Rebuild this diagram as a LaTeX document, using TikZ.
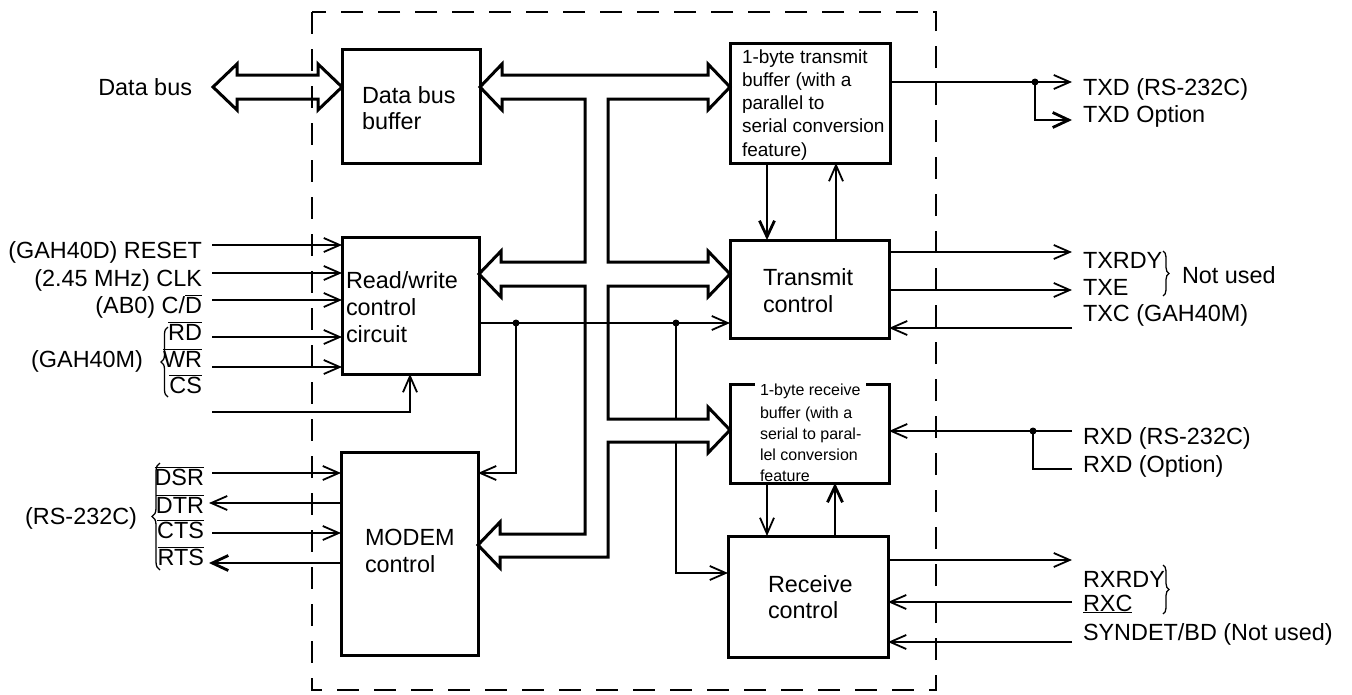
\documentclass[tikz,border=0pt]{standalone}
\usepackage{fontspec}
\setmainfont{Liberation Sans}
\usetikzlibrary{arrows.meta,decorations.pathreplacing}
\newcommand\lns[1]{\begin{tabular}[t]{@{}l@{}}#1\end{tabular}}
\newcommand\ovl[1]{$\overline{\mbox{#1}}$}
\begin{document}
\begin{tikzpicture}[x=1pt,y=-1pt,
  every node/.style={font=\fontsize{23.4}{26}\selectfont, inner sep=0pt, outer sep=0pt},
  box/.style={draw, line width=3pt, inner sep=0pt, outer sep=0pt, anchor=north west},
  lab/.style={anchor=base west},
  labl/.style={anchor=base east},
  sig/.style={line width=1.8pt},
  thk/.style={line width=2.8pt},
  tip/.style={-{Straight Barb[length=16pt,width=14pt,line width=1.8pt]}},
  tipT/.style={-{Straight Barb[length=16pt,width=15pt,line width=2.8pt]}},
  bus/.style={line width=3pt, line join=miter},
  brc/.style={line width=1.3pt, decorate, decoration={brace, amplitude=7pt}},
  small/.style={font=\fontsize{19}{23.3}\selectfont},
  smaller/.style={font=\fontsize{16}{21}\selectfont}
]
\useasboundingbox (0,0) rectangle (1352,694);

% boundary
\draw[line width=2.5pt, dash pattern=on 22pt off 15pt] (312,12) rectangle (936,690);

% boxes
\node[box, minimum width=138pt, minimum height=114pt] (dbb) at (342,49) {};
\node[box, minimum width=137pt, minimum height=137pt] (rw) at (342,237) {};
\node[box, minimum width=137pt, minimum height=203pt] (modem) at (341,452) {};
\node[box, minimum width=160pt, minimum height=120pt] (txbuf) at (730,43) {};
\node[box, minimum width=159pt, minimum height=98pt] (txctl) at (730,240) {};
\node[box, minimum width=159pt, minimum height=99pt] (rxbuf) at (730,384) {};
\node[box, minimum width=160pt, minimum height=121pt] (rxctl) at (728,536) {};

% box texts
\node[lab] (dbbt) at (362,103) {\lns{Data bus\\buffer}};
\node[lab, font=\fontsize{23.4}{27}\selectfont] (rwt) at (346,288) {\lns{Read/write\\control\\circuit}};
\node[lab, font=\fontsize{23.4}{27}\selectfont] (modemt) at (365,545) {\lns{MODEM\\control}};
\node[lab, font=\fontsize{23.4}{27}\selectfont] (txctlt) at (763,285) {\lns{Transmit\\control}};
\node[lab] (rxctlt) at (768,592) {\lns{Receive\\control}};
\node[lab, small] (txbuft) at (742,63) {\lns{1-byte transmit\\buffer (with a\\parallel to\\serial conversion\\feature)}};
\node[lab, smaller, fill=white, inner xsep=5pt, inner ysep=2pt] (rxbufa) at (755,395) {1-byte receive};
\node[lab, smaller] (rxbufb) at (760,418) {\lns{buffer (with a\\serial to paral-\\lel conversion\\feature}};

% R/W output lines (one under the bus)
\coordinate (j1) at (516,323);
\coordinate (j2) at (676,323);
\coordinate (m1) at (516,473);
\coordinate (r1) at (676,573);
\draw[sig, tip] (j2) -- (r1) -- (r1 -| rxctl.west);

% internal bus
\draw[bus, fill=white] (480,87) -- (502,64) -- (502,75) -- (708,75) -- (708,64) -- (730,87)
  -- (708,110) -- (708,99) -- (608,99) -- (608,262) -- (708,262) -- (708,251) -- (730,274)
  -- (708,297) -- (708,286) -- (608,286) -- (608,419) -- (708,419) -- (708,407) -- (730,430)
  -- (708,453) -- (708,442) -- (608,442) -- (608,557) -- (500,557) -- (500,568) -- (478,545)
  -- (500,522) -- (500,534) -- (585,534) -- (585,286) -- (501,286) -- (501,297) -- (479,274)
  -- (501,251) -- (501,262) -- (585,262) -- (585,99) -- (502,99) -- (502,110) -- cycle;

% external data bus arrow
\draw[bus] (213,87) -- (237,64) -- (237,75) -- (318,75) -- (318,64) -- (342,87)
  -- (318,110) -- (318,99) -- (237,99) -- (237,110) -- cycle;
\node[labl] (dbl) at (192,95) {Data bus};

\draw[sig, tip] (j1 -| rw.east) -- (j1 -| txctl.west);
\draw[sig, tip] (j1) -- (m1) -- (m1 -| modem.east);
\fill (j1) circle (3.5pt);
\fill (j2) circle (3.5pt);

% R/W inputs
\coordinate (iReset) at (212,245);
\coordinate (iClk) at (212,273);
\coordinate (iCD) at (212,300);
\coordinate (iRD) at (212,337);
\coordinate (iWR) at (212,367);
\coordinate (iCS) at (212,412);
\coordinate (cCS) at (410,412);
\foreach \c in {iReset,iClk,iCD,iRD,iWR}
  \draw[sig, tip] (\c) -- (\c -| rw.west);
\draw[sig, tip] (iCS) -- (cCS) -- (cCS |- rw.south);

\node[labl] (tReset) at (202,258) {(GAH40D) RESET};
\node[labl] (tClk) at (202,286) {(2.45 MHz) CLK};
\node[labl] (tCD) at (202,313) {(AB0) C/\ovl{D}};
\node[labl] (tRD) at (202,340) {\ovl{RD}};
\node[labl] (tWR) at (202,367) {\ovl{WR}};
\node[labl] (tCS) at (202,393) {\ovl{CS}};
\node[labl] (tGAH) at (143,367) {(GAH40M)};
\draw[brc] (168,397) -- (168,327);

% MODEM signals
\coordinate (iDSR) at (212,473);
\coordinate (oDTR) at (209,503);
\coordinate (iCTS) at (212,533);
\coordinate (oRTS) at (209,563);
\draw[sig, tip] (iDSR) -- (iDSR -| modem.west);
\draw[sig, tip] (oDTR -| modem.west) -- (oDTR);
\draw[sig, tip] (iCTS) -- (iCTS -| modem.west);
\draw[thk, tipT] (oRTS -| modem.west) -- (oRTS);
\node[labl] (tDSR) at (204,485) {\ovl{DSR}};
\node[labl] (tDTR) at (204,513) {\ovl{DTR}};
\node[labl] (tCTS) at (204,538) {\ovl{CTS}};
\node[labl] (tRTS) at (204,565) {\ovl{RTS}};
\node[labl] (tRS) at (137,524) {(RS-232C)};
\draw[brc, decoration={brace, amplitude=8pt}] (160,570) -- (160,463);

% buffer <-> control
\coordinate (xa) at (767,200);
\coordinate (xb) at (836,200);
\coordinate (xc) at (767,500);
\coordinate (xd) at (835,500);
\draw[thk, tipT] (xa |- txbuf.south) -- (xa |- txctl.north);
\draw[sig, tip] (xb |- txctl.north) -- (xb |- txbuf.south);
\draw[sig, tip] (xc |- rxbuf.south) -- (xc |- rxctl.north);
\draw[thk, tipT] (xd |- rxctl.north) -- (xd |- rxbuf.south);

% right side signals
\coordinate (oTXD) at (1072,82);
\coordinate (jTXD) at (1035,82);
\coordinate (oTXO) at (1072,120);
\draw[sig, tip] (oTXD -| txbuf.east) -- (oTXD);
\draw[thk, tipT] (jTXD) -- (jTXD |- oTXO) -- (oTXO);
\fill (jTXD) circle (3.5pt);

\coordinate (oTXRDY) at (1072,252);
\coordinate (oTXE) at (1072,290);
\coordinate (iTXC) at (1072,328);
\draw[sig, tip] (oTXRDY -| txctl.east) -- (oTXRDY);
\draw[sig, tip] (oTXE -| txctl.east) -- (oTXE);
\draw[sig, tip] (iTXC) -- (iTXC -| txctl.east);

\coordinate (iRXD) at (1072,431);
\coordinate (jRXD) at (1033,431);
\coordinate (oRXO) at (1072,469);
\draw[sig, tip] (iRXD) -- (iRXD -| rxbuf.east);
\draw[thk] (jRXD) -- (jRXD |- oRXO) -- (oRXO);
\fill (jRXD) circle (3.5pt);

\coordinate (oRXRDY) at (1072,560);
\coordinate (iRXC) at (1072,602);
\coordinate (iSYN) at (1072,642);
\draw[sig, tip] (oRXRDY -| rxctl.east) -- (oRXRDY);
\draw[sig, tip] (iRXC) -- (iRXC -| rxctl.east);
\draw[sig, tip] (iSYN) -- (iSYN -| rxctl.east);

\node[lab] (tTXD) at (1083,95) {TXD (RS-232C)};
\node[lab] (tTXO) at (1083,122) {TXD Option};
\node[lab] (tTXRDY) at (1083,268) {TXRDY};
\node[lab] (tTXE) at (1083,295) {TXE};
\node[lab] (tTXC) at (1083,321) {TXC (GAH40M)};
\node[lab] (tNU) at (1182,283) {Not used};
\draw[brc, decoration={brace, amplitude=6pt}] (1163,251) -- (1163,296);
\node[lab] (tRXD) at (1083,444) {RXD (RS-232C)};
\node[lab] (tRXO) at (1083,472) {RXD (Option)};
\node[lab] (tRXRDY) at (1083,587) {RXRDY};
\node[lab] (tRXC) at (1083,611) {\underline{RXC}};
\node[lab] (tSYN) at (1083,640) {SYNDET/BD (Not used)};
\draw[brc, decoration={brace, amplitude=6pt}] (1163,565) -- (1163,614);
\end{tikzpicture}
\end{document}
